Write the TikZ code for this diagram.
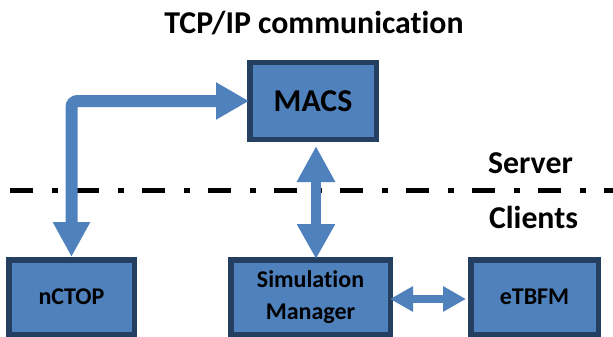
\documentclass[tikz,border=0pt]{standalone}
\usepackage{fontspec}
\setmainfont{Carlito}[Ligatures=NoCommon]
\usetikzlibrary{arrows.meta}
\definecolor{boxblue}{HTML}{4F81BD}
\definecolor{boxedge}{HTML}{243F60}
\begin{document}
\begin{tikzpicture}[
		x=1pt, y=-1pt,
		every node/.style={
				font=\bfseries,
			},
		unit/.style={draw=boxedge, fill=boxblue, line width=5.5pt, inner sep=0pt,
				align=center, font=\bfseries\fontsize{24}{32}\selectfont},
		bigtext/.style={font=\bfseries\fontsize{31.8}{37}\selectfont},
		link/.style={draw=boxblue, line width=#1},
	]
	\useasboundingbox (0,0) rectangle (613,337);
	\node[bigtext, anchor=base] (title) at (314,34) {TCP/IP communication};
	\node[unit, bigtext, minimum width=126.5pt, minimum height=76.5pt] (macs) at (313,101) {MACS};
	\node[unit, minimum width=125.5pt, minimum height=74.5pt] (nctop) at (71.5,297) {nCTOP};
	\node[unit, minimum width=159.5pt, minimum height=74.5pt] (sim) at (310.5,297) {Simulation\\Manager};
	\node[unit, minimum width=127.5pt, minimum height=74.5pt] (etbfm) at (534.5,297) {eTBFM};
	\node[bigtext, anchor=base] (server) at (530.5,173) {Server};
	\node[bigtext, anchor=base] (clients) at (533.5,228) {Clients};
	% server / client border
	\coordinate (split-l) at (10,190.5);
	\coordinate (split-r) at (613,190.5);
	\draw [line width=5.5pt, dash pattern=on 23pt off 19pt on 6pt off 18pt] (split-l) -- (split-r);
	\draw [link=12pt, rounded corners=6pt, {Triangle[length=33pt, width=35pt]}-{Triangle[length=35pt, width=35pt]}]
		([xshift=2pt]macs.west) -| (nctop.north);
	\draw [link=10.5pt, {Triangle[length=36pt, width=36pt]}-{Triangle[length=35pt, width=36pt]}]
		([xshift=3pt, yshift=-4pt]macs.south) -- ([xshift=5.5pt, yshift=-2pt]sim.north);
	\draw [link=8pt, {Triangle[length=23pt, width=24pt]}-{Triangle[length=23pt, width=24pt]}]
		([xshift=-3pt, yshift=-2pt]sim.east) -- ([xshift=-2pt, yshift=-2pt]etbfm.west);
\end{tikzpicture}
\end{document}
